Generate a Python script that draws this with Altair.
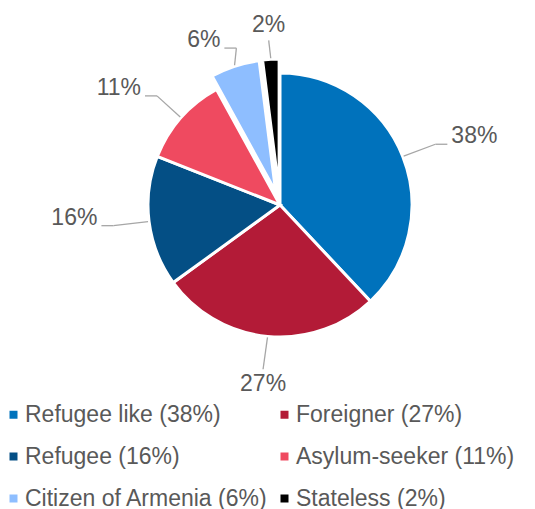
import altair as alt
import pandas as pd

categories = ["Refugee like", "Foreigner", "Refugee", "Asylum-seeker", "Citizen of Armenia", "Stateless"]
values = [38, 27, 16, 11, 6, 2]
colors = ["#0072BC", "#B31B37", "#044F85", "#EF4A60", "#8EBEFF", "#000000"]
exploded = ["Citizen of Armenia", "Stateless"]

labels = [f"{c} ({v}%)" for c, v in zip(categories, values)]
df = pd.DataFrame({
    "category": categories,
    "value": values,
    "label": labels,
    "order": list(range(len(categories))),
})

CX, CY, R = 272, 197, 132
A, B = 180, 165
EXPL = 14
FONT = "Liberation Sans"
TXT = "#595959"
LINE = "#A6A6A6"

expl_list = "[" + ",".join(f"'{e}'" for e in exploded) + "]"

base = (
    alt.Chart(df)
    .transform_joinaggregate(total="sum(value)")
    .transform_window(cum="sum(value)", sort=[alt.SortField("order")], frame=[None, 0])
    .transform_calculate(
        t0="2*PI*(datum.cum - datum.value)/datum.total",
        t1="2*PI*datum.cum/datum.total",
        ex=f"indexof({expl_list}, datum.category) >= 0 ? {EXPL} : 0",
        pct="datum.value + '%'",
    )
    .transform_calculate(m="(datum.t0 + datum.t1)/2")
    .transform_calculate(
        px=f"{CX} + datum.ex*sin(datum.m)",
        py=f"{CY} - datum.ex*cos(datum.m)",
        ex_x=f"{CX} + ({R} + datum.ex + 1)*sin(datum.m)",
        ex_y=f"{CY} - ({R} + datum.ex + 1)*cos(datum.m)",
        ax=f"{CX} + {A}*sin(datum.m)",
        ay=f"{CY} - {B}*cos(datum.m)",
        s="sin(datum.m) > 0 ? 1 : -1",
        side="abs(sin(datum.m)) > 0.25 ? 'side' : (cos(datum.m) > 0 ? 'top' : 'bottom')",
    )
    .transform_calculate(
        kx="datum.side == 'side' ? datum.ax - datum.s*12 : datum.ax",
    )
)

X = lambda f: alt.X(f, type="quantitative", scale=None, axis=None)
Y = lambda f: alt.Y(f, type="quantitative", scale=None, axis=None)

arcs = base.mark_arc(outerRadius=R, stroke="white", strokeWidth=3).encode(
    x=X("px"),
    y=Y("py"),
    theta=alt.Theta("t0:Q", scale=None, stack=None),
    theta2="t1:Q",
    color=alt.Color(
        "label:N",
        scale=alt.Scale(domain=labels, range=colors),
        legend=alt.Legend(
            orient="none", legendX=-6, legendY=395, columns=2, direction="horizontal",
            title=None,
            symbolType="square", symbolSize=64, symbolStrokeWidth=0,
            labelFontSize=23, labelFont=FONT, labelColor=TXT,
            rowPadding=18, columnPadding=5, labelOffset=0, padding=0,
            labelLimit=400,
        ),
    ),
    order=alt.Order("order:Q"),
)

lead1 = base.mark_rule(color=LINE, strokeWidth=1.3).encode(
    x=X("ex_x"), y=Y("ex_y"), x2="kx:Q", y2="ay:Q"
)
lead2 = base.transform_filter("datum.side == 'side'").mark_rule(color=LINE, strokeWidth=1.3).encode(
    x=X("kx"), y=Y("ay"), x2="ax:Q", y2="ay:Q"
)

def txt(filt, **kw):
    return base.transform_filter(filt).mark_text(
        font=FONT, fontSize=23, color=TXT, **kw
    ).encode(x=X("ax"), y=Y("ay"), text="pct:N")

t_right = txt("datum.side == 'side' && datum.s > 0", align="left", baseline="middle", dx=4, dy=-8)
t_left = txt("datum.side == 'side' && datum.s < 0", align="right", baseline="middle", dx=-4, dy=-8)
t_top = txt("datum.side == 'top'", align="center", baseline="bottom", dy=-3)
t_bot = txt("datum.side == 'bottom'", align="center", baseline="top", dy=4)

chart = (
    alt.layer(arcs, lead1, lead2, t_right, t_left, t_top, t_bot)
    .properties(width=519, height=501, padding=0, autosize=alt.AutoSizeParams(type="none"))
    .configure_view(stroke=None)
)

chart.save("out.html", embed_options={"renderer": "svg", "actions": False})
